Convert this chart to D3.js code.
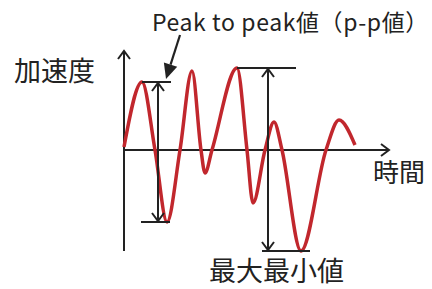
<!DOCTYPE html>
<html>
<head>
<meta charset="utf-8">
<script src="https://cdn.jsdelivr.net/npm/d3@7"></script>
<style>
  html, body { margin: 0; padding: 0; background: #fff; }
  svg { display: block; }
  text { font-family: "Noto Sans CJK JP", "Noto Sans", sans-serif; fill: #222; }
</style>
</head>
<body>
<svg id="chart" width="432" height="289"></svg>
<script>
// waveform: time (arbitrary units) and acceleration
const times = [0, 18, 31, 43, 56, 68, 77, 81, 88, 113, 123, 129, 141, 150, 158, 177, 202, 215, 231];
const accel = [3, 68, 0, -72, 0, 79, 0, -23, 0, 82, 0, -53, 0, 28, 0, -101, 0, 30, 5];

// the two peak-to-peak pairs (index into the arrays above)
const ppPairs = [
  { peak: 1, trough: 3, arrowT: 34, right: 47, lowLeft: 17, lowRight: 46 },
  { peak: 9, trough: 15, arrowT: 144, right: 172, lowLeft: 138, lowRight: 186 }
];

const labels = {
  y: "加速度",
  x: "時間",
  top: "Peak to peak値（p-p値）",
  bottom: "最大最小値"
};

const svg = d3.select("#chart");
const x = d3.scaleLinear().domain([0, 265]).range([124, 389]);
const y = d3.scaleLinear().domain([-100, 100]).range([250, 50]);

const ink = "#222";
const red = "#c1272d";

// chevron arrow head
function chevron(tx, ty, dir) {
  const L = 8, W = 6;
  let pts;
  if (dir === "up") pts = [[tx - W, ty + L], [tx, ty], [tx + W, ty + L]];
  else if (dir === "down") pts = [[tx - W, ty - L], [tx, ty], [tx + W, ty - L]];
  else pts = [[tx - L, ty - W], [tx, ty], [tx - L, ty + W]];
  svg.append("polyline").attr("points", pts.map(p => p.join(",")).join(" "))
    .attr("fill", "none").attr("stroke", ink).attr("stroke-width", 2);
}

// axes
svg.append("line").attr("x1", x(0)).attr("x2", x(0)).attr("y1", y(-101)).attr("y2", y(99))
  .attr("stroke", ink).attr("stroke-width", 2);
chevron(x(0), y(99), "up");
svg.append("line").attr("x1", x(0)).attr("x2", x(265)).attr("y1", y(0)).attr("y2", y(0))
  .attr("stroke", ink).attr("stroke-width", 2);
chevron(x(265), y(0), "right");

// waveform
const line = d3.line().x((d, i) => x(times[i])).y(d => y(d)).curve(d3.curveMonotoneX);
svg.append("path").attr("d", line(accel))
  .attr("fill", "none").attr("stroke", red).attr("stroke-width", 3.5);

// peak-to-peak markers
ppPairs.forEach(p => {
  const yt = y(accel[p.peak]), yb = y(accel[p.trough]);
  svg.append("line").attr("x1", x(times[p.peak])).attr("x2", x(p.right)).attr("y1", yt).attr("y2", yt)
    .attr("stroke", ink).attr("stroke-width", 2);
  svg.append("line").attr("x1", x(p.lowLeft)).attr("x2", x(p.lowRight)).attr("y1", yb).attr("y2", yb)
    .attr("stroke", ink).attr("stroke-width", 2);
  svg.append("line").attr("x1", x(p.arrowT)).attr("x2", x(p.arrowT)).attr("y1", yt + 1).attr("y2", yb - 1)
    .attr("stroke", ink).attr("stroke-width", 2);
  chevron(x(p.arrowT), yt + 1, "up");
  chevron(x(p.arrowT), yb - 1, "down");
});

// pointer arrow from the title to the first peak line
const tip = [166, 79], tail = [180, 35];
const ang = Math.atan2(tip[1] - tail[1], tip[0] - tail[0]);
const hl = 15, hw = 7;
const base = [tip[0] - hl * Math.cos(ang), tip[1] - hl * Math.sin(ang)];
svg.append("line").attr("x1", tail[0]).attr("y1", tail[1]).attr("x2", base[0]).attr("y2", base[1])
  .attr("stroke", ink).attr("stroke-width", 2.2);
svg.append("polygon").attr("fill", ink).attr("points", [
  tip,
  [base[0] + hw * Math.sin(ang), base[1] - hw * Math.cos(ang)],
  [base[0] - hw * Math.sin(ang), base[1] + hw * Math.cos(ang)]
].map(p => p.join(",")).join(" "));

// labels
svg.append("text").attr("x", 14).attr("y", 81).attr("font-size", 27).text(labels.y);
svg.append("text").attr("x", 373).attr("y", 182).attr("font-size", 26).text(labels.x);
svg.append("text").attr("x", 152).attr("y", 31).attr("font-size", 23)
  .attr("letter-spacing", 0.6).text(labels.top);
svg.append("text").attr("x", 209).attr("y", 281).attr("font-size", 27).text(labels.bottom);
</script>
</body>
</html>
